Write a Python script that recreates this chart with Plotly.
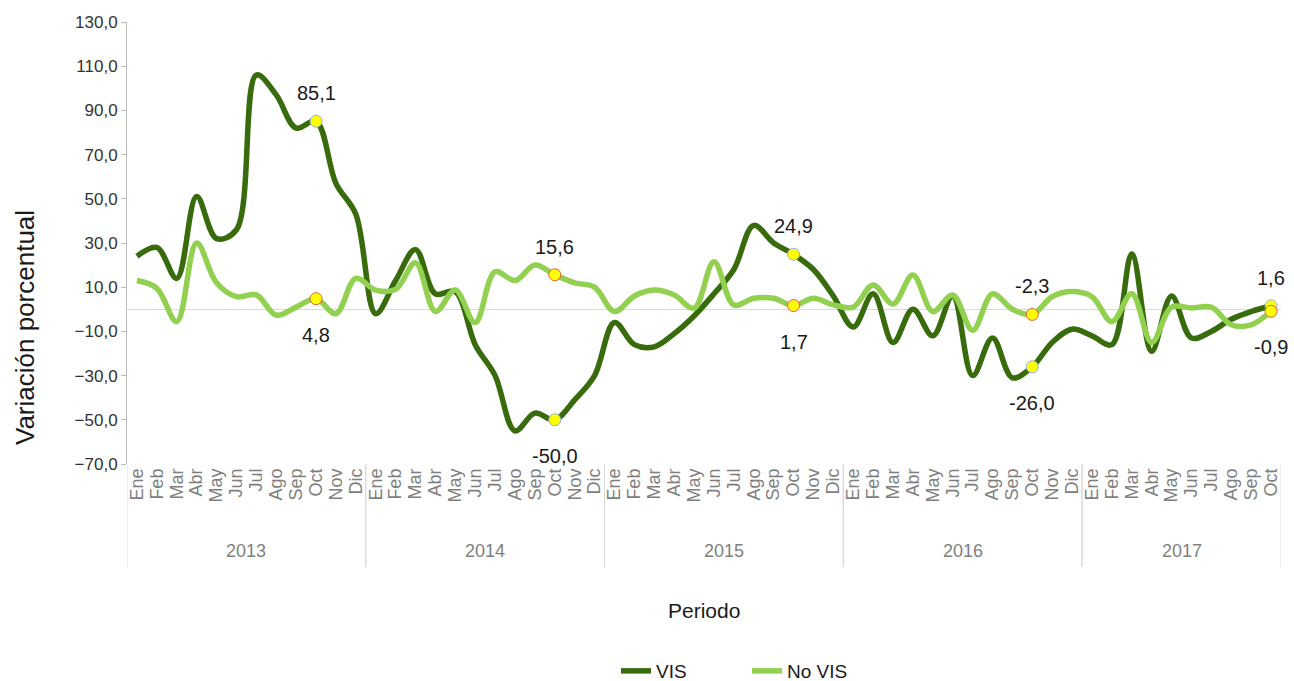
import plotly.graph_objects as go

# ---------------- data ----------------
month_names = ["Ene", "Feb", "Mar", "Abr", "May", "Jun", "Jul", "Ago", "Sep", "Oct", "Nov", "Dic"]
years = ["2013"] * 12 + ["2014"] * 12 + ["2015"] * 12 + ["2016"] * 12 + ["2017"] * 10
months = month_names * 4 + month_names[:10]

vis = [24, 28, 14, 51, 32, 36, 106, 97, 82, 85.1, 57, 43,
       -2, 13, 27, 7, 8, -16, -30, -55, -47, -50.0, -41, -30,
       -6, -16, -17, -11, -3, 7, 18, 38, 30, 24.9, 18, 6,
       -8, 7, -15, 0, -12, 6, -30, -13, -31, -26.0, -15, -9,
       -12, -16, 25, -19, 6, -13, -10, -4.5, -1, 1.6]

no_vis = [13, 9.5, -5.6, 30, 12, 5.7, 6.5, -2.6, 1, 4.8, -2, 14,
          8.7, 9, 21, -1, 8.7, -6, 17, 13, 20, 15.6, 12, 10,
          -1, 6, 8.7, 6.5, 0.5, 21.5, 2, 5, 5, 1.7, 5, 2,
          1, 11, 2.4, 15.5, -1, 6.5, -9.5, 7, 0, -2.3, 5.7, 8,
          5.7, -5.6, 7, -15, 1, 0.6, 1, -7, -7, -0.9]

highlight_month = "Oct"

# ---------------- styles ----------------
DARK = "#376B0C"
LIGHT = "#92D050"
FONT = "Liberation Sans, Arial, sans-serif"
TXT = "#1a1a1a"
GRAY = "#7f7f7f"

W, H = 1294, 681
ML, MR, MT, MB = 127, 13, 22, 217
PH = H - MT - MB


def paper_y(px):
    return (H - MB - px) / PH


def paper_x(px):
    return (px - ML) / (W - ML - MR)


xs = list(range(len(months)))
hl = [i for i, m in enumerate(months) if m == highlight_month]

fig = go.Figure()
fig.add_trace(go.Scatter(x=xs, y=vis, name="VIS", mode="lines",
                         line=dict(color=DARK, width=5.5, shape="spline", smoothing=1.0)))
fig.add_trace(go.Scatter(x=xs, y=no_vis, name="No VIS", mode="lines",
                         line=dict(color=LIGHT, width=5.5, shape="spline", smoothing=1.0)))
fig.add_trace(go.Scatter(x=hl, y=[vis[i] for i in hl], mode="markers", showlegend=False,
                         marker=dict(size=12, color="#FFFF00", line=dict(color="#8DB4E2", width=1))))
fig.add_trace(go.Scatter(x=hl, y=[no_vis[i] for i in hl], mode="markers", showlegend=False,
                         marker=dict(size=12, color="#FFFF00", line=dict(color="#E2603A", width=1))))


def fmt(v):
    return f"{v:.1f}".replace(".", ",")


annotations = []
for i in hl:
    for val, other in ((vis[i], no_vis[i]), (no_vis[i], vis[i])):
        above = val > other
        annotations.append(dict(x=i, y=val, xref="x", yref="y", text=fmt(val), showarrow=False,
                                yshift=28 if above else -36,
                                font=dict(family=FONT, size=20, color=TXT)))

# year group labels and dividers
shapes = []
groups = []
start = 0
for i in range(1, len(years) + 1):
    if i == len(years) or years[i] != years[start]:
        groups.append((years[start], start, i - 1))
        start = i
for name, a, b in groups:
    annotations.append(dict(x=(a + b) / 2, y=paper_y(551), xref="x", yref="paper", text=name,
                            showarrow=False, yanchor="middle",
                            font=dict(family=FONT, size=18, color=GRAY)))
    for edge in (a - 0.5, b + 0.5):
        shapes.append(dict(type="line", xref="x", yref="paper", x0=edge, x1=edge,
                           y0=0, y1=paper_y(567), line=dict(color="#d9d9d9", width=1)))

annotations.append(dict(text="Variación porcentual", xref="paper", yref="paper",
                        x=paper_x(25), y=paper_y(328), showarrow=False, textangle=-90,
                        xanchor="center", yanchor="middle",
                        font=dict(family=FONT, size=26, color=TXT)))
annotations.append(dict(text="Periodo", xref="paper", yref="paper",
                        x=0.5, y=paper_y(610), showarrow=False,
                        xanchor="center", yanchor="middle",
                        font=dict(family=FONT, size=21, color=TXT)))

fig.update_layout(
    width=W, height=H,
    margin=dict(l=ML, r=MR, t=MT, b=MB, autoexpand=False),
    paper_bgcolor="white", plot_bgcolor="white",
    separators=",.",
    showlegend=True,
    legend=dict(orientation="h", x=paper_x(616), xanchor="left", y=paper_y(671), yanchor="middle",
                font=dict(family=FONT, size=19, color=TXT), entrywidth=86),
    annotations=annotations,
    shapes=shapes,
)
fig.update_xaxes(range=[-0.5, len(months) - 0.5], tickmode="array", tickvals=xs, ticktext=months,
                 tickangle=-90, ticks="", showgrid=False, showline=False, zeroline=False,
                 tickfont=dict(family=FONT, size=18, color=GRAY))
fig.update_yaxes(range=[-70, 130], dtick=20, tick0=10, tickformat=".1f",
                 showgrid=False, showline=True, linecolor="#bfbfbf", linewidth=1,
                 ticks="outside", ticklen=5, tickcolor="#bfbfbf",
                 zeroline=True, zerolinecolor="#d9d9d9", zerolinewidth=1,
                 tickfont=dict(family=FONT, size=17, color="#333333"))

fig.write_html("out.html", config={"displayModeBar": False},
               post_script="document.body.style.margin='0';")
